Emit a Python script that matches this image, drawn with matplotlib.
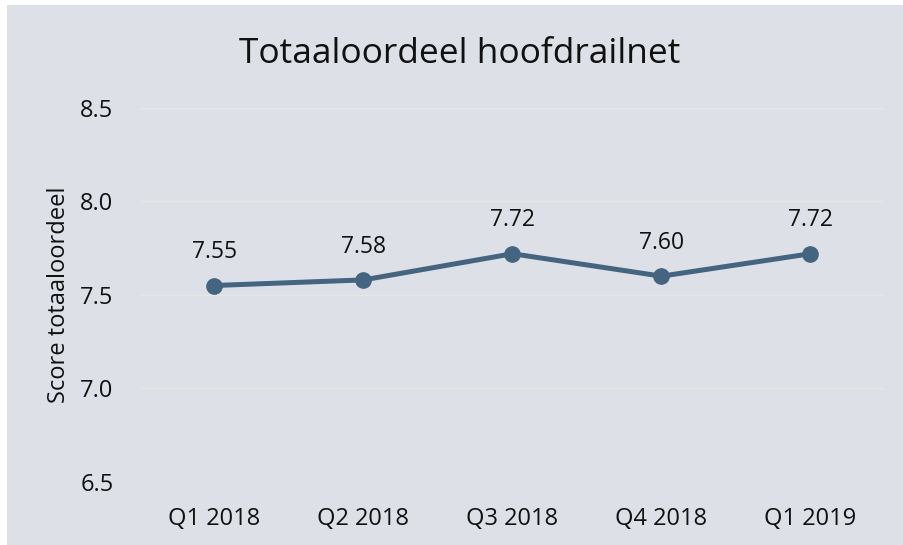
import matplotlib.pyplot as plt
from matplotlib.patches import Rectangle

# data
quarters = ["Q1 2018", "Q2 2018", "Q3 2018", "Q4 2018", "Q1 2019"]
scores = [7.55, 7.58, 7.72, 7.60, 7.72]
y_ticks = [6.5, 7.0, 7.5, 8.0, 8.5]

BG = "#dde1e7"
LINE = "#44647f"
GRID = "#e6e6e2"
TXT = "#111111"

plt.rcParams["font.family"] = ["Open Sans", "DejaVu Sans"]

W, H = 904, 545
fig = plt.figure(figsize=(W / 100, H / 100), dpi=100, facecolor=BG)
# thin white strips along the left and top edge
fig.patches.append(Rectangle((0, 0), 7 / W, 1, transform=fig.transFigure,
                             facecolor="white", edgecolor="none", zorder=-10))
fig.patches.append(Rectangle((0, 1 - 5 / H), 1, 5 / H, transform=fig.transFigure,
                             facecolor="white", edgecolor="none", zorder=-10))

ax = fig.add_axes([140 / W, (H - 481.7) / H, 745 / W, (481.7 - 108) / H])
ax.set_facecolor("none")
ax.set_zorder(1)

x = list(range(len(quarters)))
ax.plot(x, scores, color=LINE, linewidth=3.6, marker="o", markersize=11,
        solid_capstyle="round", zorder=3)

for xi, s in zip(x, scores):
    ax.annotate(f"{s:.2f}", (xi, s), xytext=(0, 24), textcoords="offset points",
                ha="center", va="center", fontsize=16.5, color=TXT)

ax.set_xlim(-0.5, len(quarters) - 0.5)
ax.set_ylim(6.5, 8.5)
ax.set_xticks(x)
ax.set_xticklabels(quarters)
ax.set_yticks(y_ticks)
ax.set_yticklabels([f"{t:.1f}" for t in y_ticks])
ax.tick_params(axis="both", length=0, labelsize=17, colors=TXT)
ax.tick_params(axis="y", pad=19)
ax.tick_params(axis="x", pad=18)
ax.grid(axis="y", color=GRID, linewidth=1)
ax.set_axisbelow(True)
for sp in ax.spines.values():
    sp.set_visible(False)

ax.set_ylabel("Score totaaloordeel", fontsize=17, color=TXT, labelpad=7)
fig.text(460 / W, 1 - 54 / H, "Totaaloordeel hoofdrailnet", ha="center", va="center",
         fontsize=25.5, color=TXT, zorder=2)

fig.savefig("out.png", dpi=100, facecolor=fig.get_facecolor())
